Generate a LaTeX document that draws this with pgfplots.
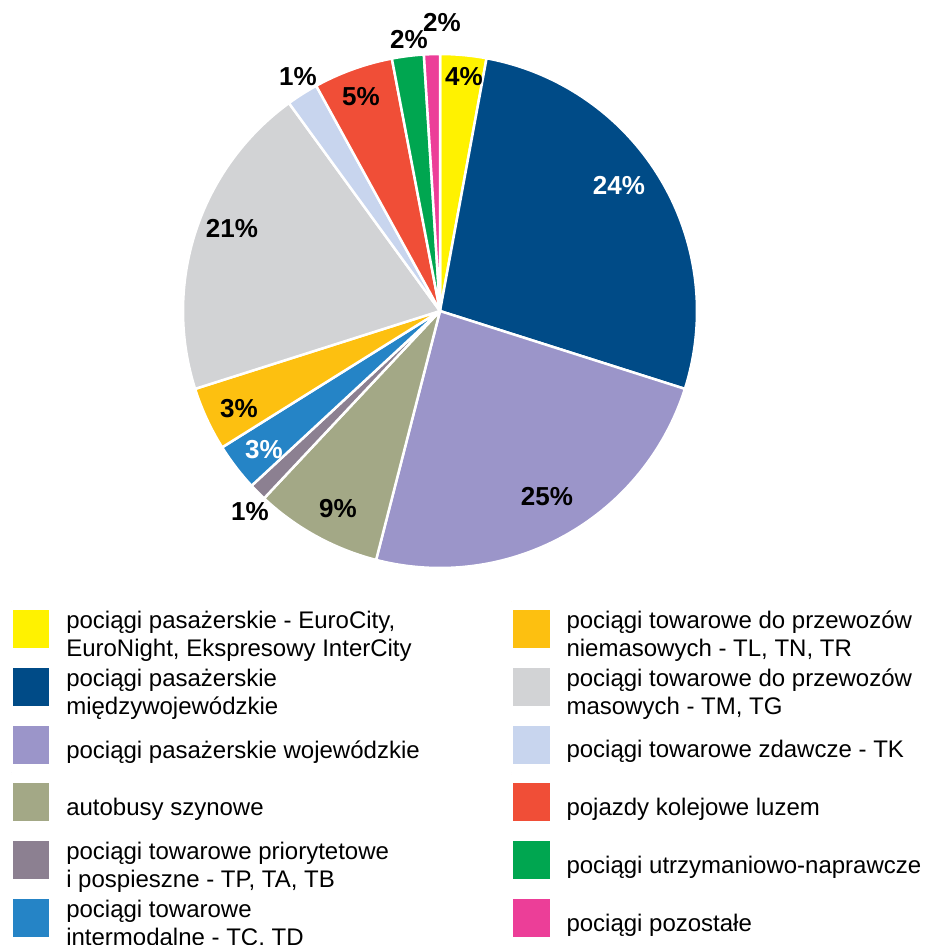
\documentclass[border=0pt]{standalone}
\usepackage{pgfplots}
\pgfplotsset{compat=1.18}
\usepackage{pgfplotstable}
\usepackage{fontspec}
\setmainfont{Liberation Sans}
\definecolor{slice0}{HTML}{FFF200}
\definecolor{slice1}{HTML}{004B87}
\definecolor{slice2}{HTML}{9B95C9}
\definecolor{slice3}{HTML}{A3A886}
\definecolor{slice4}{HTML}{8C8091}
\definecolor{slice5}{HTML}{2584C6}
\definecolor{slice6}{HTML}{FDC010}
\definecolor{slice7}{HTML}{D2D3D5}
\definecolor{slice8}{HTML}{C8D5EE}
\definecolor{slice9}{HTML}{F04E37}
\definecolor{slice10}{HTML}{00A650}
\definecolor{slice11}{HTML}{EC3E98}
\newcommand{\legtxt}[1]{\raisebox{0pt}[28pt][16pt]{\parbox[c]{420pt}{\raggedright #1}}}
% share of each slice (percent of the full circle), clockwise from the top
\pgfplotstableread{
share
2.9
27.0
24.1
8.0
1.1
3.0
4.0
19.9
2.0
5.0
2.0
1.0
}\piedata
\begin{document}
\begin{tikzpicture}
\path[use as bounding box] (0pt,0pt) rectangle (925pt,-945pt);
\begin{axis}[
  at={(440pt,-311pt)}, anchor=center,
  x=257pt, y=257pt,
  xmin=-1.1, xmax=1.1, ymin=-1.1, ymax=1.1,
  hide axis, clip=false,
  legend columns=6, transpose legend,
  legend image code/.code={\fill[#1,draw=none] (0pt,-19pt) rectangle (38pt,19pt); \path (0pt,-27.6pt) -- (0pt,27.6pt);},
  legend style={at={(-0.2605,-0.0119)}, anchor=north west, draw=none, fill=none,
    inner sep=0pt, outer sep=0pt, row sep=0pt,
    font=\fontsize{24}{28}\selectfont,
    cells={anchor=west},
    nodes={inner sep=0pt, anchor=west},
    /tikz/every odd column/.append style={column sep=17pt},
    /tikz/every even column/.append style={column sep=24pt}},
  legend entries={
    {\legtxt{pociągi pasażerskie - EuroCity,\\EuroNight, Ekspresowy InterCity}},
    {\legtxt{pociągi pasażerskie\\międzywojewódzkie}},
    {\legtxt{pociągi pasażerskie wojewódzkie}},
    {\legtxt{autobusy szynowe}},
    {\legtxt{pociągi towarowe priorytetowe\\i pospieszne - TP, TA, TB}},
    {\legtxt{pociągi towarowe\\intermodalne - TC, TD}},
    {\legtxt{pociągi towarowe do przewozów\\niemasowych - TL, TN, TR}},
    {\legtxt{pociągi towarowe do przewozów\\masowych - TM, TG}},
    {\legtxt{pociągi towarowe zdawcze - TK}},
    {\legtxt{pojazdy kolejowe luzem}},
    {\legtxt{pociągi utrzymaniowo-naprawcze}},
    {\legtxt{pociągi pozostałe}}},
]
\pgfmathsetmacro{\cum}{0}
\pgfplotsforeachungrouped \i in {0,...,11}{
  \pgfplotstablegetelem{\i}{share}\of\piedata
  \pgfmathsetmacro{\startang}{90-3.6*\cum}
  \pgfmathsetmacro{\cum}{\cum+\pgfplotsretval}
  \pgfmathsetmacro{\endang}{90-3.6*\cum}
  \edef\doplot{\noexpand\addplot[fill=slice\i, draw=white, line width=2.5pt, line join=round,
    domain=\endang:\startang, samples=90, variable=\noexpand\t]
    ({cos(\noexpand\t)},{sin(\noexpand\t)}) -- (axis cs:0,0) -- cycle;}
  \doplot
}
\begin{scope}[every node/.style={font=\fontsize{26}{30}\selectfont\bfseries, inner sep=0pt, anchor=center}]
\node at (axis cs:0.0934,0.9105) {4\%};
\node[text=white] at (axis cs:0.6965,0.4864) {24\%};
\node at (axis cs:0.4163,-0.7237) {25\%};
\node at (axis cs:-0.3969,-0.7704) {9\%};
\node at (axis cs:-0.7393,-0.7821) {1\%};
\node[text=white] at (axis cs:-0.6848,-0.5409) {3\%};
\node at (axis cs:-0.7821,-0.3813) {3\%};
\node at (axis cs:-0.8093,0.3191) {21\%};
\node at (axis cs:-0.5525,0.9105) {1\%};
\node at (axis cs:-0.3074,0.8327) {5\%};
\node at (axis cs:-0.1206,1.0545) {2\%};
\node at (axis cs:0.0078,1.1206) {2\%};
\end{scope}
\end{axis}
\end{tikzpicture}
\end{document}
